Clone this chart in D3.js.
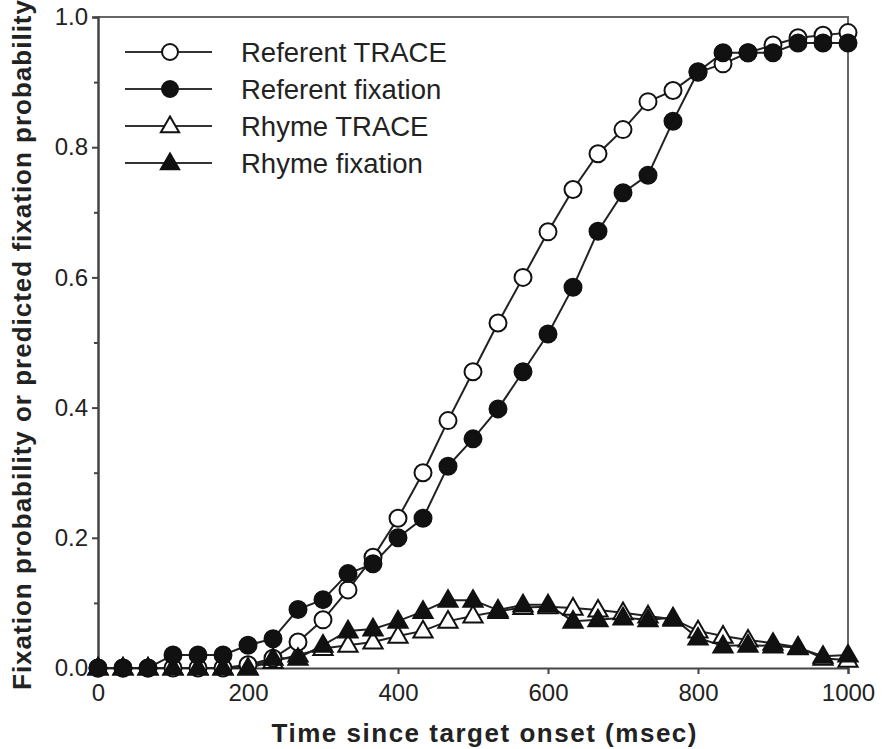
<!DOCTYPE html>
<html>
<head>
<meta charset="utf-8">
<script src="https://d3js.org/d3.v7.min.js"></script>
<style>
  body { margin: 0; background: #fff; }
  text { font-family: "Liberation Sans", Arial, sans-serif; fill: #222; }
</style>
</head>
<body>
<svg id="drawing_region"></svg>
<script>
// time points (msec), one every 33.3 ms
var times = d3.range(31).map(i => i * 1000 / 30);

var referent_trace = [0, 0, 0, 0, 0, 0, 0.005, 0.015, 0.04, 0.074, 0.12, 0.17, 0.23, 0.30, 0.38, 0.455,
    0.53, 0.60, 0.67, 0.735, 0.79, 0.827, 0.87, 0.887, 0.915, 0.928, 0.945, 0.957, 0.968, 0.972, 0.976];
var referent_fix = [0, 0, 0, 0.02, 0.02, 0.02, 0.035, 0.045, 0.09, 0.105, 0.145, 0.16, 0.20, 0.23, 0.31, 0.352,
    0.398, 0.455, 0.513, 0.585, 0.671, 0.73, 0.757, 0.84, 0.916, 0.945, 0.945, 0.945, 0.96, 0.96, 0.96];
var rhyme_trace = [0, 0, 0, 0, 0, 0, 0, 0.01, 0.02, 0.03, 0.035, 0.04, 0.049, 0.057, 0.072, 0.08,
    0.087, 0.093, 0.094, 0.092, 0.089, 0.085, 0.08, 0.075, 0.057, 0.049, 0.043, 0.038, 0.032, 0.015, 0.012];
var rhyme_fix = [0, 0, 0, 0, 0, 0, 0, 0.015, 0.015, 0.035, 0.057, 0.06, 0.072, 0.087, 0.104, 0.104,
    0.089, 0.097, 0.097, 0.072, 0.074, 0.077, 0.074, 0.077, 0.046, 0.034, 0.035, 0.034, 0.031, 0.018, 0.02];

var series_names = ["Referent TRACE", "Referent fixation", "Rhyme TRACE", "Rhyme fixation"];
var x_ticks = [0, 200, 400, 600, 800, 1000];
var y_ticks = [0, 0.2, 0.4, 0.6, 0.8, 1.0];

class LineChart {
    constructor( config, series ) {
        this.config = config;
        this.series = series;
        this.init();
    }

    init() {
        let self = this;
        self.svg = d3.select( self.config.parent )
            .attr('width', self.config.width)
            .attr('height', self.config.height);
        self.chart = self.svg.append('g')
            .attr('transform', `translate(${self.config.margin.left}, ${self.config.margin.top})`);
        self.inner_width = self.config.width - self.config.margin.left - self.config.margin.right;
        self.inner_height = self.config.height - self.config.margin.top - self.config.margin.bottom;

        self.xscale = d3.scaleLinear().domain([0, 1000]).range([0, self.inner_width]);
        self.yscale = d3.scaleLinear().domain([0, 1]).range([self.inner_height, 0]);
        self.render();
    }

    marker( g, shape, filled, size ) {
        let sym = shape == 'circle' ? d3.symbolCircle : d3.symbolTriangle;
        let area = shape == 'circle' ? Math.PI * size * size : size * size * 1.6;
        return g.append('path')
            .attr('d', d3.symbol().type(sym).size(area)())
            .attr('fill', filled ? '#111' : '#fff')
            .attr('stroke', '#111')
            .attr('stroke-width', 2);
    }

    render() {
        let self = this;
        let axis_color = '#444';

        // frame (top and right)
        self.chart.append('path')
            .attr('d', `M0,0H${self.inner_width}V${self.inner_height}`)
            .attr('fill', 'none').attr('stroke', '#666').attr('stroke-width', 2);

        // x axis
        let xg = self.chart.append('g')
            .attr('transform', `translate(0, ${self.inner_height})`)
            .call( d3.axisBottom(self.xscale).tickValues(d3.range(100, 1000, 200)).tickSize(4).tickFormat('') );
        xg.call( d3.axisBottom(self.xscale).tickValues(x_ticks).tickSize(6).tickPadding(10).tickFormat(d3.format('d')) );
        xg.selectAll('path.domain').attr('stroke', axis_color).attr('stroke-width', 2);
        xg.selectAll('line').attr('stroke', axis_color).attr('stroke-width', 2);
        xg.selectAll('text').attr('font-size', 24).attr('font-family', '"Liberation Sans", Arial, sans-serif').attr('fill', '#222');

        // y axis
        let yg = self.chart.append('g');
        yg.call( d3.axisLeft(self.yscale).tickValues(d3.range(0.1, 1, 0.2)).tickSize(4).tickFormat('') );
        yg.append('g').call( d3.axisLeft(self.yscale).tickValues(y_ticks).tickSize(6).tickPadding(4).tickFormat(d3.format('.1f')) );
        yg.selectAll('path.domain').attr('stroke', axis_color).attr('stroke-width', 2);
        yg.selectAll('line').attr('stroke', axis_color).attr('stroke-width', 2);
        yg.selectAll('text').attr('font-size', 24).attr('font-family', '"Liberation Sans", Arial, sans-serif').attr('fill', '#222');

        // axis titles
        self.svg.append('text')
            .attr('x', 484).attr('y', 742)
            .attr('text-anchor', 'middle')
            .attr('font-size', 26).attr('font-weight', 'bold')
            .attr('textLength', 425).attr('lengthAdjust', 'spacing')
            .text('Time since target onset (msec)');
        self.svg.append('text')
            .attr('transform', 'translate(31, 345) rotate(-90)')
            .attr('text-anchor', 'middle')
            .attr('font-size', 26).attr('font-weight', 'bold')
            .attr('textLength', 690).attr('lengthAdjust', 'spacing')
            .text('Fixation probability or predicted fixation probability');

        let line = d3.line()
            .x((d, i) => self.xscale(times[i]))
            .y(d => self.yscale(d));

        // TRACE series first, fixation series drawn on top
        let order = [2, 0, 3, 1];
        order.forEach( k => {
            let s = self.series[k];
            self.chart.append('path')
                .datum(s.values)
                .attr('d', line)
                .attr('fill', 'none')
                .attr('stroke', '#222')
                .attr('stroke-width', 2);
        });
        order.forEach( k => {
            let s = self.series[k];
            s.values.forEach( (v, i) => {
                self.marker( self.chart, s.shape, s.filled, s.shape == 'circle' ? 8.5 : 10 )
                    .attr('transform', `translate(${self.xscale(times[i])}, ${self.yscale(v) + (s.shape == 'circle' ? 0 : 1)})`);
            });
        });

        // legend
        let legend = self.svg.append('g');
        self.series.forEach( (s, k) => {
            let y = 52 + k * 37;
            legend.append('line')
                .attr('x1', 125).attr('x2', 212).attr('y1', y).attr('y2', y)
                .attr('stroke', '#333').attr('stroke-width', 2);
            self.marker( legend, s.shape, s.filled, s.shape == 'circle' ? 8 : 9.5 )
                .attr('transform', `translate(170, ${y + (s.shape == 'circle' ? 0 : 1)})`);
            legend.append('text')
                .attr('x', 241).attr('y', y)
                .attr('dy', '0.36em')
                .attr('font-size', 27.5)
                .text(series_names[k]);
        });
    }
}

var config = {
    parent: '#drawing_region',
    width: 883,
    height: 749,
    margin: {top:17, right:35, bottom:81, left:98}
};

var series = [
    {values: referent_trace, shape: 'circle', filled: false},
    {values: referent_fix, shape: 'circle', filled: true},
    {values: rhyme_trace, shape: 'triangle', filled: false},
    {values: rhyme_fix, shape: 'triangle', filled: true}
];

var line_chart = new LineChart( config, series );
</script>
</body>
</html>
